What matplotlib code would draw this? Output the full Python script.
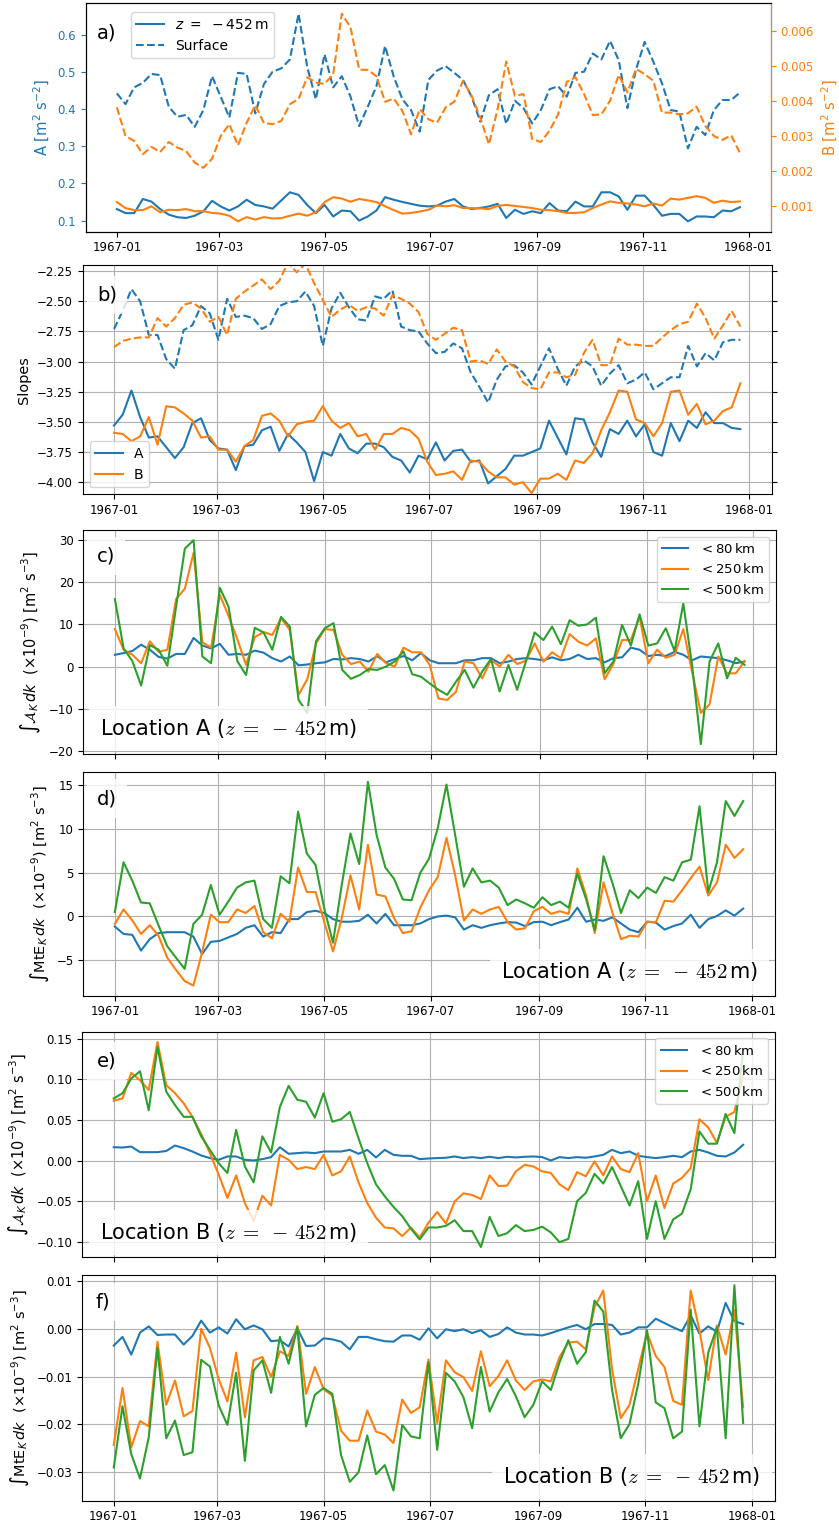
import numpy as np
import matplotlib
matplotlib.use('Agg')
import matplotlib.pyplot as plt
import matplotlib.dates as mdates
from matplotlib.lines import Line2D

plt.rcParams['font.family'] = ['DejaVu Sans']
plt.rcParams['xtick.labelsize'] = 8.5
plt.rcParams['ytick.labelsize'] = 8.5
plt.rcParams['axes.labelsize'] = 10.5

C0, C1, C2 = '#1f77b4', '#ff7f0e', '#2ca02c'

# ---------------- data (5-day samples, 1967-01-01 .. 1967-12-27) ----------------
dates = np.arange(np.datetime64('1967-01-01'), np.datetime64('1967-12-28'), np.timedelta64(5, 'D'))

# panel a
A_deep = [0.131,0.120,0.120,0.158,0.151,0.131,0.116,0.109,0.107,0.113,
          0.125,0.153,0.138,0.127,0.138,0.156,0.142,0.138,0.132,0.154,
          0.176,0.169,0.142,0.120,0.142,0.111,0.127,0.125,0.100,0.111,
          0.127,0.163,0.156,0.150,0.145,0.140,0.138,0.140,0.151,0.158,
          0.138,0.131,0.134,0.138,0.145,0.107,0.129,0.118,0.125,0.120,
          0.147,0.127,0.125,0.151,0.138,0.138,0.176,0.176,0.165,0.129,
          0.167,0.167,0.142,0.113,0.118,0.118,0.098,0.111,0.111,0.109,
          0.127,0.125,0.136]
A_surf = [0.442,0.413,0.458,0.470,0.494,0.491,0.406,0.379,0.384,0.352,
          0.397,0.488,0.433,0.377,0.497,0.494,0.388,0.467,0.500,0.509,
          0.533,0.656,0.513,0.426,0.547,0.458,0.488,0.433,0.354,0.406,
          0.461,0.569,0.487,0.426,0.397,0.339,0.478,0.503,0.515,0.497,
          0.478,0.433,0.366,0.437,0.453,0.360,0.422,0.402,0.361,0.397,
          0.453,0.461,0.433,0.497,0.500,0.549,0.533,0.583,0.531,0.402,
          0.506,0.580,0.527,0.469,0.397,0.393,0.294,0.352,0.330,0.397,
          0.424,0.424,0.444]
B_deep = [0.00111,0.00094,0.00088,0.00088,0.00099,0.00082,0.00089,0.00088,0.00091,0.00085,
          0.00085,0.00080,0.00078,0.00072,0.00056,0.00068,0.00061,0.00068,0.00064,0.00065,
          0.00072,0.00078,0.00072,0.00082,0.00111,0.00125,0.00121,0.00112,0.00120,0.00116,
          0.00111,0.00099,0.00088,0.00078,0.00080,0.00084,0.00089,0.00101,0.00099,0.00102,
          0.00094,0.00094,0.00093,0.00091,0.00100,0.00103,0.00100,0.00097,0.00094,0.00089,
          0.00088,0.00085,0.00080,0.00080,0.00082,0.00094,0.00104,0.00113,0.00109,0.00107,
          0.00104,0.00099,0.00107,0.00101,0.00121,0.00118,0.00123,0.00128,0.00123,0.00109,
          0.00115,0.00111,0.00113]
B_surf = [0.00382,0.00300,0.00286,0.00248,0.00269,0.00254,0.00283,0.00267,0.00257,0.00224,
          0.00209,0.00235,0.00300,0.00334,0.00273,0.00338,0.00388,0.00337,0.00334,0.00343,
          0.00391,0.00406,0.00468,0.00453,0.00449,0.00477,0.00650,0.00611,0.00490,0.00489,
          0.00471,0.00398,0.00407,0.00372,0.00305,0.00377,0.00348,0.00338,0.00382,0.00398,
          0.00458,0.00415,0.00353,0.00276,0.00377,0.00513,0.00415,0.00420,0.00291,0.00283,
          0.00315,0.00362,0.00455,0.00468,0.00420,0.00360,0.00362,0.00401,0.00475,0.00425,
          0.00492,0.00477,0.00458,0.00367,0.00367,0.00362,0.00365,0.00384,0.00329,0.00300,
          0.00289,0.00302,0.00252]

# panel b (slopes)
slopeA_surf = [-2.73,-2.58,-2.40,-2.50,-2.78,-2.78,-2.98,-3.06,-2.74,-2.70,
               -2.54,-2.60,-2.82,-2.48,-2.63,-2.62,-2.64,-2.73,-2.69,-2.54,
               -2.51,-2.50,-2.42,-2.54,-2.87,-2.56,-2.43,-2.55,-2.65,-2.66,
               -2.46,-2.48,-2.41,-2.71,-2.74,-2.75,-2.85,-2.93,-2.92,-2.85,
               -2.89,-3.09,-3.21,-3.34,-3.15,-3.04,-3.03,-3.09,-3.19,-3.04,
               -2.89,-3.06,-3.20,-3.04,-2.99,-3.04,-3.20,-3.10,-3.03,-3.18,
               -3.15,-3.09,-3.23,-3.18,-3.13,-3.13,-2.87,-3.04,-2.93,-2.99,
               -2.84,-2.82,-2.82]
slopeB_surf = [-2.88,-2.83,-2.81,-2.80,-2.80,-2.64,-2.71,-2.64,-2.53,-2.51,
               -2.56,-2.67,-2.63,-2.78,-2.48,-2.42,-2.37,-2.32,-2.40,-2.33,
               -2.18,-2.26,-2.19,-2.35,-2.49,-2.63,-2.57,-2.53,-2.58,-2.55,
               -2.56,-2.62,-2.45,-2.48,-2.52,-2.59,-2.77,-2.82,-2.77,-2.72,
               -2.74,-3.00,-2.99,-3.02,-2.90,-3.00,-3.04,-3.17,-3.22,-3.23,
               -3.09,-3.09,-3.13,-3.11,-2.93,-2.82,-3.03,-3.03,-2.81,-2.86,
               -2.86,-2.87,-2.87,-2.80,-2.74,-2.69,-2.67,-2.52,-2.64,-2.81,
               -2.70,-2.58,-2.71]
slopeA_deep = [-3.53,-3.44,-3.24,-3.46,-3.63,-3.62,-3.71,-3.80,-3.71,-3.51,
               -3.47,-3.65,-3.72,-3.73,-3.90,-3.70,-3.69,-3.57,-3.54,-3.74,
               -3.60,-3.67,-3.75,-3.99,-3.75,-3.78,-3.60,-3.72,-3.76,-3.68,
               -3.68,-3.71,-3.79,-3.82,-3.92,-3.78,-3.81,-3.67,-3.82,-3.74,
               -3.73,-3.83,-3.82,-4.01,-3.95,-3.89,-3.78,-3.78,-3.75,-3.72,
               -3.49,-3.63,-3.77,-3.47,-3.48,-3.67,-3.79,-3.56,-3.60,-3.49,
               -3.62,-3.52,-3.75,-3.78,-3.51,-3.66,-3.49,-3.55,-3.42,-3.51,
               -3.51,-3.55,-3.56]
slopeB_deep = [-3.59,-3.60,-3.66,-3.62,-3.46,-3.69,-3.37,-3.38,-3.43,-3.49,
               -3.63,-3.62,-3.73,-3.73,-3.83,-3.70,-3.65,-3.45,-3.43,-3.49,
               -3.62,-3.52,-3.50,-3.49,-3.37,-3.49,-3.55,-3.51,-3.62,-3.60,
               -3.73,-3.60,-3.60,-3.55,-3.57,-3.64,-3.83,-3.94,-3.93,-3.91,
               -3.98,-3.82,-3.83,-3.91,-3.96,-3.96,-4.02,-4.00,-4.09,-3.97,
               -3.97,-3.93,-3.98,-3.82,-3.84,-3.76,-3.57,-3.42,-3.24,-3.25,
               -3.48,-3.51,-3.62,-3.51,-3.25,-3.24,-3.44,-3.35,-3.52,-3.49,
               -3.41,-3.38,-3.18]

# panel c: integral of A_K, location A
c80 = [2.8,3.2,3.7,5.2,4.0,2.3,1.9,3.0,3.0,6.8,
       5.0,4.3,5.4,2.8,3.0,2.8,3.8,3.3,2.0,1.2,
       2.4,0.3,0.5,0.8,1.0,1.8,1.7,2.0,1.8,1.2,
       2.5,1.0,1.8,2.5,1.5,3.2,1.5,0.8,0.8,0.8,
       1.5,1.5,2.0,2.0,0.8,1.2,1.8,2.0,1.8,1.5,
       2.2,1.5,1.8,2.8,1.8,2.0,1.0,2.0,2.2,4.5,
       4.0,2.5,2.8,2.5,3.5,2.8,1.5,2.4,2.2,2.0,
       1.5,0.8,1.2]
c250 = [8.9,4.0,2.8,0.8,6.0,3.5,4.0,16.0,18.5,27.0,
        5.8,4.5,17.0,12.0,6.5,0.4,7.0,8.2,7.5,11.5,
        8.7,-6.7,-3.0,5.5,8.9,8.7,2.8,0.6,1.2,-1.2,
        3.0,0.8,0.0,4.5,3.4,3.4,0.4,-7.6,-7.9,-6.0,
        1.2,0.8,-2.8,1.6,0.0,2.8,0.6,1.4,5.5,1.2,
        3.4,2.0,7.7,5.9,5.0,6.7,-3.0,0.6,6.3,6.3,
        11.8,0.8,4.0,2.1,2.8,8.9,-1.2,-11.0,-9.0,2.4,
        -1.6,-1.6,1.3]
c500 = [16.0,4.3,1.3,-4.5,5.1,4.0,0.2,14.2,28.0,30.0,
        2.4,0.8,18.7,14.2,1.3,-2.0,9.2,8.1,4.0,11.8,
        9.5,-7.9,-11.0,6.0,9.1,10.3,-0.8,-2.9,-2.0,-0.6,
        -0.8,0.0,1.2,3.6,-1.8,-2.4,-4.0,-5.5,-6.7,-3.6,
        -0.8,-5.0,-1.2,1.8,-5.9,0.4,-5.5,1.2,8.1,6.3,
        9.5,5.3,11.0,9.7,10.0,11.6,-1.6,1.2,9.9,5.0,
        12.4,5.0,5.5,9.1,3.7,15.0,0.4,-18.4,1.2,5.5,
        -2.8,2.1,0.4]

# panel d: integral of MtE_K, location A
d80 = [-1.15,-2.0,-2.1,-3.9,-2.6,-1.9,-1.8,-1.8,-1.8,-2.3,
       -4.3,-2.9,-2.8,-2.4,-2.0,-1.3,-1.0,-2.3,-1.8,-1.9,
       -0.3,-0.3,0.5,0.65,0.4,-0.3,-0.6,-0.6,-0.5,0.2,
       -0.8,0.3,-1.0,-1.0,-1.0,-0.8,-0.3,0.0,0.1,-0.1,
       -1.5,-1.0,-1.3,-1.0,-0.8,-0.65,-0.7,-1.1,-0.65,-0.6,
       -1.0,-0.65,-0.35,1.0,-0.6,-0.35,-0.5,-0.1,-0.8,-1.5,
       -1.8,-0.6,-0.7,-1.5,-1.1,-0.8,0.2,-1.3,-0.3,0.05,
       0.7,0.1,0.9]
d250 = [-0.85,0.8,-0.45,-2.0,-1.0,-2.2,-4.7,-6.1,-7.4,-7.9,
        -4.1,0.2,-0.65,-0.65,0.8,0.4,1.2,-1.8,-2.5,0.3,
        -0.6,5.6,2.8,2.8,-0.65,-4.0,-0.2,4.7,0.8,8.2,
        2.5,2.3,-0.2,-1.9,-1.7,1.0,3.0,4.5,9.0,4.7,
        -0.45,0.8,0.3,0.8,1.1,-0.65,-1.5,-1.35,0.6,1.1,
        0.3,0.6,0.3,5.5,2.4,-1.9,3.9,0.5,-2.6,-2.2,
        -2.3,-0.6,-0.65,1.8,1.7,3.0,4.4,5.7,2.4,3.9,
        8.2,6.7,7.7]
d500 = [0.5,6.2,4.1,1.6,1.5,-1.0,-3.4,-4.7,-6.0,-0.85,
        0.2,3.6,0.2,1.7,3.3,3.9,4.1,-0.3,-1.3,4.6,
        3.8,12.0,7.2,5.9,0.9,-3.0,3.6,9.5,6.0,15.4,
        9.3,5.6,4.3,1.95,1.85,5.0,6.6,10.1,15.1,9.3,
        3.4,5.5,3.9,4.1,3.3,1.3,1.95,1.5,1.0,2.2,
        1.3,1.7,1.0,4.9,2.0,-1.6,6.9,3.9,0.4,3.0,
        2.1,3.3,2.7,4.5,4.1,6.2,6.5,12.6,2.8,6.2,
        13.2,11.5,13.2]

# panel e: integral of A_K, location B
e80 = [0.0167,0.0163,0.0175,0.0106,0.0106,0.0106,0.012,0.0187,0.0155,0.0114,
       0.0065,0.0033,0.0012,0.0053,0.0053,0.0012,0.0004,0.002,0.0045,0.0167,
       0.0086,0.0094,0.0102,0.0094,0.0114,0.0114,0.0114,0.0134,0.0086,0.0134,
       0.0041,0.0134,0.0073,0.0061,0.0061,0.002,0.0028,0.0033,0.0037,0.0053,
       0.0033,0.0045,0.0033,0.0049,0.0033,0.0049,0.0041,0.0049,0.0053,0.0045,
       0.0004,0.0045,0.0033,0.0045,0.0037,0.0053,0.0073,0.0134,0.0094,0.0114,
       0.0061,0.0045,0.0033,0.0045,0.0061,0.0045,0.0114,0.0134,0.0102,0.0061,
       0.0053,0.0102,0.0196]
e250 = [0.0738,0.0766,0.108,0.099,0.087,0.146,0.093,0.083,0.0705,0.054,
        0.033,0.0094,-0.017,-0.0457,-0.018,-0.052,-0.074,-0.043,-0.055,0.0073,
        0.0012,-0.0102,-0.0077,-0.0102,0.0073,-0.018,-0.013,0.0053,-0.0265,-0.052,
        -0.070,-0.082,-0.083,-0.0925,-0.082,-0.0945,-0.076,-0.063,-0.077,-0.050,
        -0.040,-0.042,-0.047,-0.018,-0.031,-0.0305,-0.013,-0.005,-0.007,-0.013,
        -0.015,-0.029,-0.036,-0.014,-0.019,-0.0008,-0.018,0.0053,-0.0102,-0.014,
        0.0094,-0.0497,-0.018,-0.058,-0.028,-0.021,-0.009,0.051,0.041,0.022,
        0.054,0.060,0.105]
e500 = [0.0766,0.083,0.101,0.110,0.062,0.140,0.085,0.0685,0.054,0.054,
        0.030,0.0134,-0.003,-0.015,0.038,-0.007,-0.0265,0.030,0.0102,0.066,
        0.092,0.075,0.0725,0.053,0.083,0.048,0.051,0.060,0.0277,-0.003,
        -0.029,-0.0436,-0.0567,-0.068,-0.0836,-0.0966,-0.082,-0.082,-0.080,-0.073,
        -0.0864,-0.0864,-0.106,-0.069,-0.0925,-0.089,-0.079,-0.0864,-0.085,-0.081,
        -0.088,-0.100,-0.096,-0.0497,-0.0395,-0.016,-0.028,-0.0077,-0.031,-0.055,
        -0.025,-0.096,-0.0497,-0.096,-0.072,-0.065,-0.035,0.036,0.021,0.021,
        0.0575,0.034,0.136]

# panel f: integral of MtE_K, location B
f80 = [-0.0035,-0.0017,-0.0054,-0.0008,0.0005,-0.0013,-0.0012,-0.0012,-0.0033,-0.0015,
       0.0017,-0.0008,0.0003,-0.001,0.002,-0.0001,0.0007,-0.0001,-0.0026,-0.0024,
       -0.0037,0.0001,-0.0036,-0.0035,-0.002,-0.0022,-0.0027,-0.0043,-0.0017,-0.0017,
       -0.0022,-0.0026,-0.0027,-0.0014,-0.0014,-0.0023,0.0001,-0.002,-0.0001,-0.0005,
       -0.0001,-0.0009,-0.0003,-0.0017,-0.0011,0.0003,-0.0008,-0.0012,-0.0012,-0.0014,
       -0.0009,-0.0003,0.0003,0.0008,-0.0001,0.001,0.001,0.0008,-0.0012,-0.0008,
       0.0003,0.0003,0.0021,0.0012,0.0003,-0.0005,0.0028,-0.001,0.0005,-0.0006,
       0.0054,0.0016,0.001]
f250 = [-0.0243,-0.0124,-0.0248,-0.0193,-0.0204,-0.0027,-0.0159,-0.0108,-0.0183,-0.0172,
        0.0,-0.004,-0.0105,-0.0152,-0.005,-0.0185,-0.0066,-0.0059,-0.0101,-0.0047,
        -0.0057,0.0006,-0.0136,-0.008,-0.0126,-0.014,-0.0213,-0.0234,-0.0234,-0.0171,
        -0.0215,-0.0221,-0.0239,-0.0148,-0.0176,-0.0164,-0.0064,-0.0197,-0.0066,-0.0091,
        -0.0101,-0.013,-0.0047,-0.012,-0.0099,-0.0066,-0.0108,-0.0128,-0.011,-0.0106,
        -0.011,-0.0059,-0.0029,-0.0027,-0.0043,0.0045,0.008,-0.0084,-0.0187,-0.0159,
        -0.0084,-0.0008,-0.0057,-0.008,-0.0151,-0.0159,0.008,-0.0003,-0.0107,0.0007,
        -0.0054,0.004,-0.0164]
f500 = [-0.029,-0.0162,-0.0262,-0.0313,-0.0227,-0.004,-0.0229,-0.0192,-0.0264,-0.0258,
        -0.0065,-0.0079,-0.016,-0.0201,-0.0092,-0.0276,-0.0087,-0.0066,-0.0134,-0.0017,
        -0.0073,0.0003,-0.0204,-0.0138,-0.0124,-0.0136,-0.0264,-0.032,-0.030,-0.0223,
        -0.0304,-0.0285,-0.0338,-0.0201,-0.0225,-0.0229,-0.007,-0.0253,-0.0092,-0.011,
        -0.0143,-0.0208,-0.008,-0.0173,-0.0133,-0.0105,-0.0141,-0.0185,-0.0159,-0.011,
        -0.0128,-0.007,-0.0024,-0.0073,-0.0049,0.0059,0.0036,-0.0127,-0.0229,-0.0199,
        -0.0115,-0.0003,-0.0154,-0.0166,-0.0229,-0.0215,0.004,-0.0204,-0.005,0.0003,
        -0.0229,0.0091,-0.0197]

scale_labels = [r'$<80\,\mathrm{km}$', r'$<250\,\mathrm{km}$', r'$<500\,\mathrm{km}$']
loc_A = r'Location A ($z\;=\;-\,452\,$m)'
loc_B = r'Location B ($z\;=\;-\,452\,$m)'

# ---------------- figure ----------------
W, H = 839, 1526
fig = plt.figure(figsize=(W / 100, H / 100), dpi=100)

def add_ax(x0, x1, y0, y1):
    return fig.add_axes([x0 / W, 1 - y1 / H, (x1 - x0) / W, (y1 - y0) / H])

def date_axis(ax, labels=True):
    ax.xaxis.set_major_locator(mdates.MonthLocator(bymonth=[1, 3, 5, 7, 9, 11]))
    ax.xaxis.set_major_formatter(mdates.DateFormatter('%Y-%m'))
    if not labels:
        ax.tick_params(labelbottom=False)

box = dict(facecolor='white', alpha=0.8, edgecolor='none', pad=7)

def panel_label(ax, s, x, y):
    ax.text(x, y, s, transform=ax.transAxes, fontsize=14, ha='center', va='center',
            bbox=box, zorder=10)

fit_labels = []   # (label text artist, target length in pixels)

# ---- a)
axa = add_ax(85.7, 771, 3.3, 231.7)
axa.plot(dates, A_deep, color=C0, lw=1.5)
axa.plot(dates, A_surf, color=C0, lw=1.5, ls='--')
axa.set_ylabel(r'A [m$^2$ s$^{-2}$]', color=C0, fontsize=11.5)
axa.tick_params(axis='y', colors=C0)
date_axis(axa)
axa2 = axa.twinx()
axa2.plot(dates, B_deep, color=C1, lw=1.5)
axa2.plot(dates, B_surf, color=C1, lw=1.5, ls='--')
axa2.set_ylabel(r'B [m$^2$ s$^{-2}$]', color=C1, fontsize=11.5)
axa2.tick_params(axis='y', colors=C1)
axa2.spines['right'].set_color(C1)
fit_labels += [(axa.yaxis.label, 77), (axa2.yaxis.label, 77)]
handles = [Line2D([], [], color=C0, lw=1.5), Line2D([], [], color=C0, lw=1.5, ls='--')]
axa2.legend(handles, [r'$z\ =\ -452\,$m', 'Surface'], loc='upper left',
            bbox_to_anchor=(0.066, 0.96), borderaxespad=0, fontsize=10)
axa2.text(0.031, 0.868, 'a)', transform=axa.transAxes, fontsize=14, ha='center', va='center')

# ---- b)
axb = add_ax(82.7, 771.7, 265, 494.3)
axb.plot(dates, slopeA_surf, color=C0, lw=1.5, ls='--')
axb.plot(dates, slopeB_surf, color=C1, lw=1.5, ls='--')
la, = axb.plot(dates, slopeA_deep, color=C0, lw=1.5, label='A')
lb, = axb.plot(dates, slopeB_deep, color=C1, lw=1.5, label='B')
axb.set_ylim(-4.1, -2.2)
axb.set_ylabel('Slopes')
fit_labels.append((axb.yaxis.label, 48))
axb.grid(True)
axb.tick_params(axis='y', right=True)
date_axis(axb)
axb.legend(handles=[la, lb], loc='lower left', fontsize=10)
panel_label(axb, 'b)', 0.035, 0.869)

# ---- c) .. f)
def series_panel(rect, s80, s250, s500, ylabel, ylab_len, lab, lab_xy, loc_text, loc_xy,
                 loc_ha, legend, xlabels):
    ax = add_ax(*rect)
    ax.plot(dates, s80, color=C0, lw=1.5, label=scale_labels[0])
    ax.plot(dates, s250, color=C1, lw=1.5, label=scale_labels[1])
    ax.plot(dates, s500, color=C2, lw=1.5, label=scale_labels[2])
    ax.grid(True)
    ax.set_ylabel(ylabel, fontsize=10.5)
    fit_labels.append((ax.yaxis.label, ylab_len))
    date_axis(ax, xlabels)
    if legend:
        ax.legend(loc='upper right', fontsize=9.5)
    panel_label(ax, lab, *lab_xy)
    ax.text(loc_xy[0], loc_xy[1], loc_text, transform=ax.transAxes, fontsize=15,
            ha=loc_ha, va='center', bbox=dict(facecolor='white', alpha=0.8,
            edgecolor='none', pad=8), zorder=10, math_fontfamily='cm')
    return ax

ylab_A = r'$\int\mathcal{A}_K\,dk\ \ (\times10^{-9})\ [\mathrm{m}^2\ \mathrm{s}^{-3}]$'
ylab_M = r'$\int\mathrm{MtE}_K\,dk\ \ (\times10^{-9})\ [\mathrm{m}^2\ \mathrm{s}^{-3}]$'

series_panel((83.4, 776, 530, 754.3), c80, c250, c500, ylab_A, 184, 'c)', (0.0326, 0.884),
             loc_A, (0.024, 0.117), 'left', True, False)
series_panel((83.4, 774.6, 771.7, 995.7), d80, d250, d500, ylab_M, 198, 'd)', (0.0344, 0.880),
             loc_A, (0.976, 0.110), 'right', False, True)
series_panel((82.3, 774.6, 1031.7, 1257.3), e80, e250, e500, ylab_A, 184, 'e)', (0.035, 0.870),
             loc_B, (0.025, 0.108), 'left', True, False)
series_panel((82.3, 774.6, 1275, 1500.7), f80, f250, f500, ylab_M, 198, 'f)', (0.03, 0.880),
             loc_B, (0.980, 0.109), 'right', False, True)

# scale axis labels so their drawn length matches the reference
fig.canvas.draw()
renderer = fig.canvas.get_renderer()
for lbl, target in fit_labels:
    length = lbl.get_window_extent(renderer).height
    if length > 0:
        lbl.set_fontsize(lbl.get_fontsize() * target / length)

fig.savefig('out.png', dpi=100)
